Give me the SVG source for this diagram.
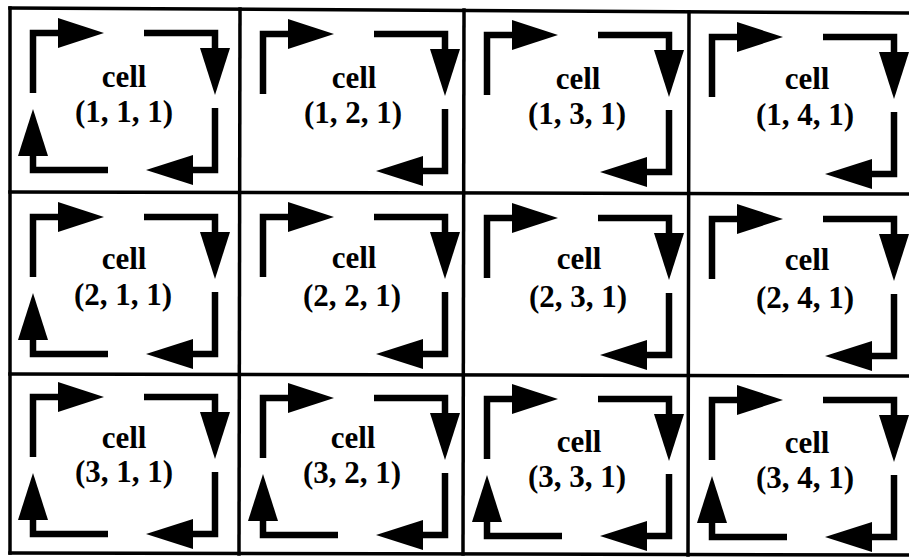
<svg xmlns="http://www.w3.org/2000/svg" xmlns:xlink="http://www.w3.org/1999/xlink" width="909" height="558" viewBox="0 0 909 558">
<style>
.grid{stroke:#000;stroke-width:3.5;fill:none;stroke-linecap:square}
.shaft{stroke:#000;stroke-width:6.5;fill:none;stroke-linejoin:miter;stroke-linecap:butt}
.head{fill:#000;stroke:none}
.lbl{font-family:"Liberation Serif","Times New Roman",serif;font-weight:bold;font-size:31px;fill:#000;text-anchor:middle}
</style>
<defs>
<g id="tl"><path class="shaft" d="M23 85 V25 H50"/><polygon class="head" points="48,10 48,40 94,25"/></g>
<g id="tr"><path class="shaft" d="M134 25 H205 V41"/><polygon class="head" points="190,40 220,40 205,87"/></g>
<g id="br"><path class="shaft" d="M205 100 V162 H181"/><polygon class="head" points="183,147 183,177 136,162"/></g>
<g id="bl"><path class="shaft" d="M98 162 H23 V146"/><polygon class="head" points="8,148 38,148 23,101"/></g>
</defs>
<rect width="909" height="558" fill="#fff"/>
<g id="grid" class="grid">
<line x1="10" y1="8" x2="909" y2="13"/>
<line x1="10" y1="192" x2="909" y2="194"/>
<line x1="10" y1="374" x2="909" y2="376"/>
<line x1="10" y1="553" x2="909" y2="555"/>
<line x1="10" y1="8" x2="10" y2="553"/>
<line x1="240" y1="9" x2="239" y2="554"/>
<line x1="464" y1="10" x2="463" y2="554"/>
<line x1="689" y1="12" x2="688" y2="555"/>
</g>
<g id="connectors">
<g id="cell-1-1-arrows" transform="translate(10,8)"><use xlink:href="#tl"/><use xlink:href="#tr"/><use xlink:href="#br"/><use xlink:href="#bl"/></g>
<g id="cell-1-2-arrows" transform="translate(240,9)"><use xlink:href="#tl"/><use xlink:href="#tr"/><use xlink:href="#br"/></g>
<g id="cell-1-3-arrows" transform="translate(464,10)"><use xlink:href="#tl"/><use xlink:href="#tr"/><use xlink:href="#br"/></g>
<g id="cell-1-4-arrows" transform="translate(689,12)"><use xlink:href="#tl"/><use xlink:href="#tr"/><use xlink:href="#br"/></g>
<g id="cell-2-1-arrows" transform="translate(10,192)"><use xlink:href="#tl"/><use xlink:href="#tr"/><use xlink:href="#br"/><use xlink:href="#bl"/></g>
<g id="cell-2-2-arrows" transform="translate(240,192)"><use xlink:href="#tl"/><use xlink:href="#tr"/><use xlink:href="#br"/></g>
<g id="cell-2-3-arrows" transform="translate(464,193)"><use xlink:href="#tl"/><use xlink:href="#tr"/><use xlink:href="#br"/></g>
<g id="cell-2-4-arrows" transform="translate(689,194)"><use xlink:href="#tl"/><use xlink:href="#tr"/><use xlink:href="#br"/></g>
<g id="cell-3-1-arrows" transform="translate(10,372)"><use xlink:href="#tl"/><use xlink:href="#tr"/><use xlink:href="#br"/><use xlink:href="#bl"/></g>
<g id="cell-3-2-arrows" transform="translate(240,373)"><use xlink:href="#tl"/><use xlink:href="#tr"/><use xlink:href="#br"/><use xlink:href="#bl"/></g>
<g id="cell-3-3-arrows" transform="translate(464,374)"><use xlink:href="#tl"/><use xlink:href="#tr"/><use xlink:href="#br"/><use xlink:href="#bl"/></g>
<g id="cell-3-4-arrows" transform="translate(689,375)"><use xlink:href="#tl"/><use xlink:href="#tr"/><use xlink:href="#br"/><use xlink:href="#bl"/></g>
</g>
<g id="cell-1-1" transform="translate(10,8)"><text class="lbl" x="114" y="79">cell</text><text class="lbl" x="114" y="114">(1, 1, 1)</text></g>
<g id="cell-1-2" transform="translate(240,9)"><text class="lbl" x="114" y="79">cell</text><text class="lbl" x="113" y="114">(1, 2, 1)</text></g>
<g id="cell-1-3" transform="translate(464,10)"><text class="lbl" x="114" y="79">cell</text><text class="lbl" x="113" y="114">(1, 3, 1)</text></g>
<g id="cell-1-4" transform="translate(689,12)"><text class="lbl" x="118" y="77">cell</text><text class="lbl" x="116" y="113">(1, 4, 1)</text></g>
<g id="cell-2-1" transform="translate(10,192)"><text class="lbl" x="114" y="77">cell</text><text class="lbl" x="113" y="113">(2, 1, 1)</text></g>
<g id="cell-2-2" transform="translate(240,192)"><text class="lbl" x="114" y="76">cell</text><text class="lbl" x="112" y="114">(2, 2, 1)</text></g>
<g id="cell-2-3" transform="translate(464,193)"><text class="lbl" x="115" y="76">cell</text><text class="lbl" x="114" y="114">(2, 3, 1)</text></g>
<g id="cell-2-4" transform="translate(689,194)"><text class="lbl" x="118" y="76">cell</text><text class="lbl" x="116" y="114">(2, 4, 1)</text></g>
<g id="cell-3-1" transform="translate(10,372)"><text class="lbl" x="114" y="76">cell</text><text class="lbl" x="114" y="110">(3, 1, 1)</text></g>
<g id="cell-3-2" transform="translate(240,373)"><text class="lbl" x="113" y="75">cell</text><text class="lbl" x="112" y="110">(3, 2, 1)</text></g>
<g id="cell-3-3" transform="translate(464,374)"><text class="lbl" x="115" y="78">cell</text><text class="lbl" x="113" y="113">(3, 3, 1)</text></g>
<g id="cell-3-4" transform="translate(689,375)"><text class="lbl" x="118" y="78">cell</text><text class="lbl" x="116" y="113">(3, 4, 1)</text></g>
</svg>
